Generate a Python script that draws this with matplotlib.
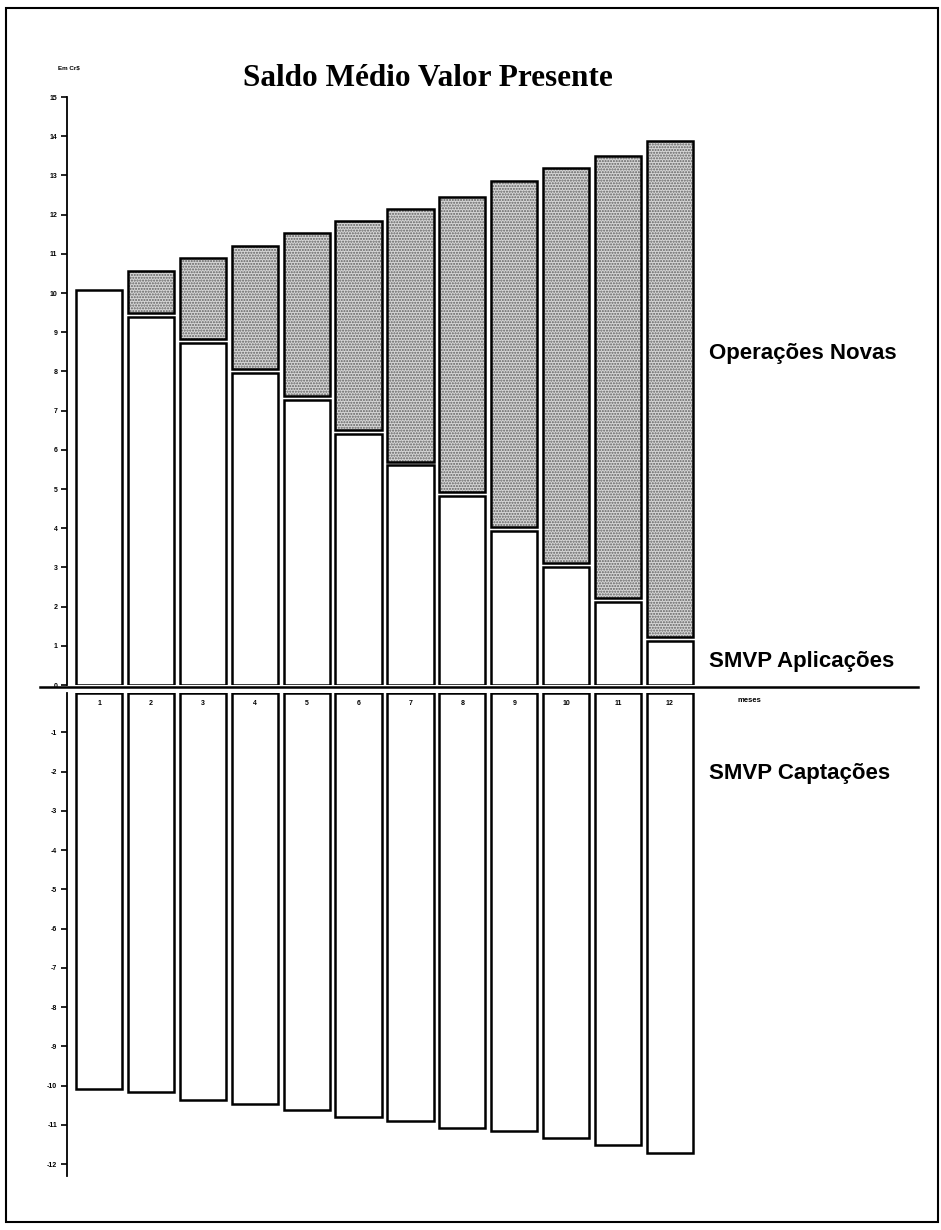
import matplotlib
matplotlib.use("Agg")
import matplotlib.pyplot as plt
from matplotlib.lines import Line2D
from matplotlib.patches import Rectangle
import numpy as np

plt.rcParams["font.family"] = "Liberation Sans"
plt.rcParams["axes.unicode_minus"] = False
plt.rcParams["hatch.linewidth"] = 1.0

# dados (em Cr$)
meses = list(range(1, 13))
aplicacoes = [10.08, 9.40, 8.72, 7.97, 7.27, 6.40, 5.60, 4.82, 3.92, 3.02, 2.12, 1.13]
novas = [0.0, 1.17, 2.17, 3.23, 4.25, 5.44, 6.55, 7.64, 8.94, 10.17, 11.37, 12.76]
captacoes = [-10.08, -10.17, -10.37, -10.46, -10.63, -10.80,
             -10.90, -11.08, -11.15, -11.33, -11.52, -11.71]
ticks_pos = list(range(0, 16))
ticks_neg = list(range(-1, -13, -1))

W, H = 941, 1230
fig = plt.figure(figsize=(W / 100, H / 100), dpi=100)


def fx(px):
    return px / W


def fy(py):
    return 1 - py / H


x_left, x_right = 67, 700
xlim = (1 - (99 - x_left) / 51.9, 12 + (x_right - 670) / 51.9)
largura = 0.89
gap = 0.1

# painel superior
ax_top = fig.add_axes([fx(x_left), fy(685), fx(x_right - x_left), fy(97) - fy(685)])
x = np.array(meses)
ap = np.array(aplicacoes)
nv = np.array(novas)
ax_top.bar(x, ap, width=largura, color="white", edgecolor="black", linewidth=1.8)
mask = nv > 0
ax_top.bar(x[mask], nv[mask] - gap, bottom=ap[mask] + gap, width=largura,
           color="#d6d6d6", edgecolor="#606060", linewidth=0, hatch="......")
ax_top.bar(x[mask], nv[mask] - gap, bottom=ap[mask] + gap, width=largura,
           fill=False, edgecolor="black", linewidth=1.8)
ax_top.set_xlim(*xlim)
ax_top.set_ylim(0, 15)
ax_top.set_yticks(ticks_pos)
ax_top.set_yticklabels([str(t) for t in ticks_pos], fontsize=5, fontweight="bold")
ax_top.set_xticks([])
for s in ["top", "right", "bottom"]:
    ax_top.spines[s].set_visible(False)
ax_top.spines["left"].set_linewidth(1.3)
ax_top.tick_params(axis="y", length=4, width=1.2, pad=3)

# painel inferior
ax_bot = fig.add_axes([fx(x_left), fy(1176), fx(x_right - x_left), fy(693) - fy(1176)])
ax_bot.bar(x, captacoes, width=largura, color="white", edgecolor="black", linewidth=1.8)
for m in meses:
    ax_bot.text(m, -0.18, str(m), ha="center", va="top", fontsize=5, fontweight="bold")
ax_bot.set_xlim(*xlim)
ax_bot.set_ylim(-12.3, 0)
ax_bot.set_yticks(ticks_neg)
ax_bot.set_yticklabels([str(t) for t in ticks_neg], fontsize=5, fontweight="bold")
ax_bot.set_xticks([])
for s in ["top", "right", "bottom"]:
    ax_bot.spines[s].set_visible(False)
ax_bot.spines["left"].set_linewidth(1.3)
ax_bot.tick_params(axis="y", length=4, width=1.2, pad=3)

# linha do zero
fig.add_artist(Line2D([fx(40), fx(918)], [fy(687), fy(687)], color="black", linewidth=1.8))

# textos
fig.text(fx(428), fy(78), "Saldo Médio Valor Presente", ha="center", va="center",
         fontsize=22.5, fontweight="bold", family="Liberation Serif")
fig.text(fx(58), fy(68), "Em Cr$", ha="left", va="center", fontsize=4.5, fontweight="bold")
fig.text(fx(709), fy(354), "Operações Novas", ha="left", va="center", fontsize=16, fontweight="bold")
fig.text(fx(709), fy(662), "SMVP Aplicações", ha="left", va="center", fontsize=16, fontweight="bold")
fig.text(fx(709), fy(773), "SMVP Captações", ha="left", va="center", fontsize=16, fontweight="bold")
fig.text(fx(738), fy(700), "meses", ha="left", va="center", fontsize=5.5, fontweight="bold")

# moldura da página
fig.add_artist(Rectangle((fx(6), fy(1222)), fx(932), fy(8) - fy(1222), fill=False,
                         edgecolor="black", linewidth=1.5, transform=fig.transFigure))

fig.savefig("out.png", dpi=100, facecolor="white")
